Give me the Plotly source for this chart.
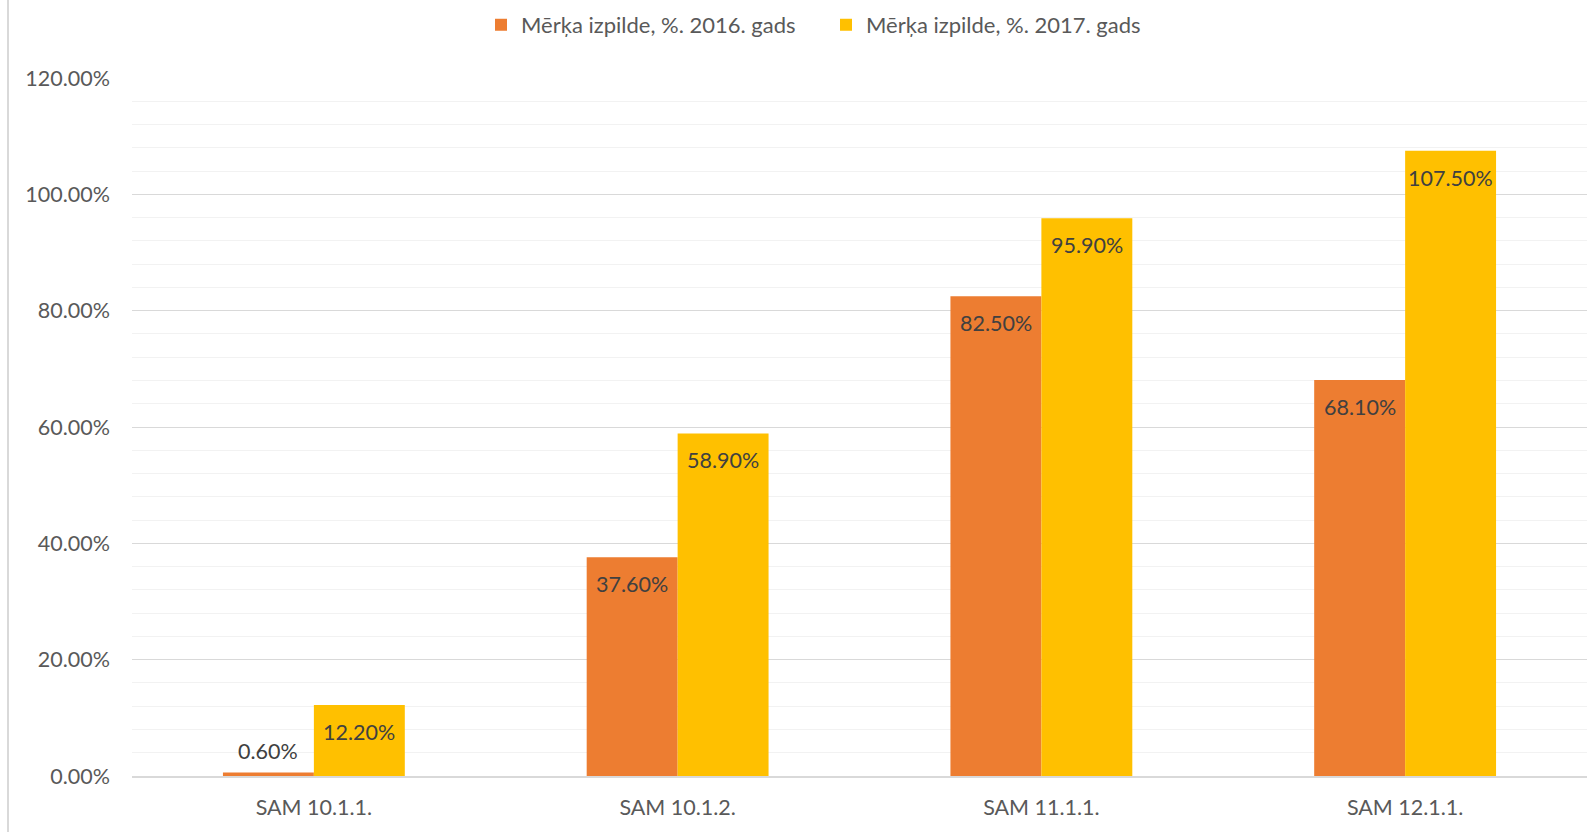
import plotly.graph_objects as go

categories = ["SAM 10.1.1.", "SAM 10.1.2.", "SAM 11.1.1.", "SAM 12.1.1."]
series_names = ["Mērķa izpilde, %. 2016. gads", "Mērķa izpilde, %. 2017. gads"]
values_2016 = [0.6, 37.6, 82.5, 68.1]
values_2017 = [12.2, 58.9, 95.9, 107.5]
y_tick_vals = [0, 20, 40, 60, 80, 100, 120]
y_tick_text = ["0.00%", "20.00%", "40.00%", "60.00%", "80.00%", "100.00%", "120.00%"]

colors = ["#ED7D31", "#FFC000"]
FONT = "Lato"
TXT = "#595959"
LBL = "#404040"
FS = 21.5

fig = go.Figure()
for name, vals, col in zip(series_names, [values_2016, values_2017], colors):
    fig.add_trace(go.Bar(x=categories, y=vals, name=name, marker=dict(color=col, line=dict(width=0))))

annotations = []
offsets = [-0.125, 0.125]
for off, vals in zip(offsets, [values_2016, values_2017]):
    for i, v in enumerate(vals):
        small = v < 5
        annotations.append(dict(
            x=i + off, y=v, xref="x", yref="y",
            text=f"{v:.2f}%", showarrow=False,
            yanchor="middle",
            yshift=22 if small else -27,
            font=dict(family=FONT, size=FS, color=LBL),
        ))

fig.update_layout(
    width=1590, height=832,
    margin=dict(l=132, r=3, t=78, b=56),
    paper_bgcolor="white", plot_bgcolor="white",
    barmode="group", bargap=0.5, bargroupgap=0,
    font=dict(family=FONT, size=FS, color=TXT),
    legend=dict(orientation="h", xref="container", x=0.5195, xanchor="center",
                yref="container", y=0.97, yanchor="middle",
                font=dict(family=FONT, size=22, color=TXT), itemwidth=30,
                entrywidth=300, traceorder="normal"),
    annotations=annotations,
    shapes=[dict(type="line", xref="paper", yref="paper",
                 x0=(8 - 132) / 1455, x1=(8 - 132) / 1455,
                 y0=-56 / 698, y1=1 + 78 / 698,
                 line=dict(color="#D9D9D9", width=2))],
)
fig.update_yaxes(range=[0, 120], tickvals=y_tick_vals, ticktext=y_tick_text,
                 showgrid=True, gridcolor="#D9D9D9", gridwidth=1,
                 minor=dict(dtick=4, showgrid=True, gridcolor="#F2F2F2", gridwidth=1),
                 zeroline=False, showline=False, ticks="", ticklabelstandoff=21,
                 tickfont=dict(family=FONT, size=FS, color=TXT))
fig.update_xaxes(showline=True, linecolor="#D9D9D9", linewidth=2, ticks="",
                 ticklabelstandoff=11, tickfont=dict(family=FONT, size=FS, color=TXT))

fig.write_html("out.html", config={"displayModeBar": False},
               post_script="document.body.style.margin='0';document.body.style.overflow='hidden';")
